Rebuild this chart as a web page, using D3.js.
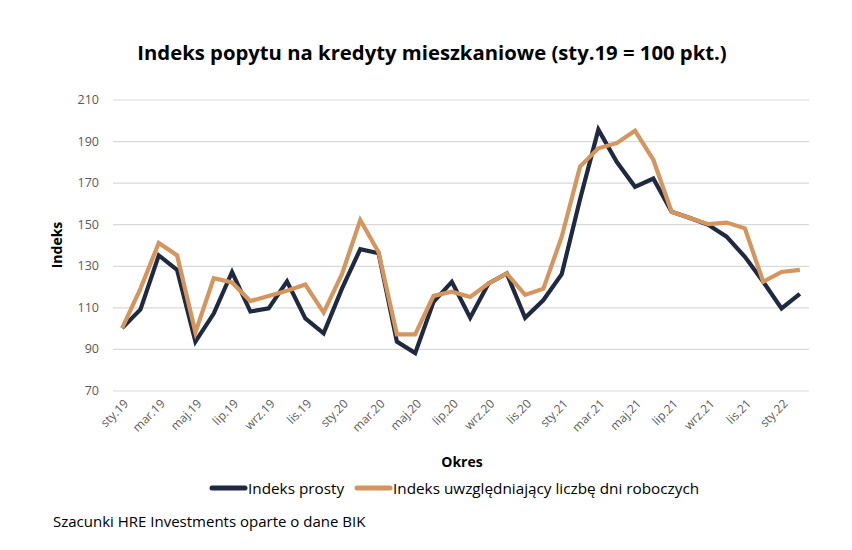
<!DOCTYPE html>
<html>
<head>
<meta charset="utf-8">
<script src="https://cdn.jsdelivr.net/npm/d3@7"></script>
<style>
  body { margin: 0; background: #fff; }
  svg { font-family: "Open Sans", "Noto Sans", sans-serif; }
</style>
</head>
<body>
<svg id="chart"></svg>
<script>
var width = 852;
var height = 550;

// months on x axis (sty.19 .. lut.22)
var months = [
  "sty.19","lut.19","mar.19","kwi.19","maj.19","cze.19","lip.19","sie.19","wrz.19","paź.19","lis.19","gru.19",
  "sty.20","lut.20","mar.20","kwi.20","maj.20","cze.20","lip.20","sie.20","wrz.20","paź.20","lis.20","gru.20",
  "sty.21","lut.21","mar.21","kwi.21","maj.21","cze.21","lip.21","sie.21","wrz.21","paź.21","lis.21","gru.21",
  "sty.22","lut.22"
];
// Indeks prosty
var prosty = [
  100,109,135,128,93.5,107,127,108,109.5,122.5,104.7,97.5,
  119,138,136,93.5,88,112.7,122.3,105,121.5,126.3,105,113.5,
  126,162,195.5,180,168,172,156,153,149.7,144,134.3,122.3,
  109.5,116.5
];
// Indeks uwzgledniajacy liczbe dni roboczych
var robocze = [
  100,119,141,135,98,124,122,113,115.5,118,121,107.5,
  126,152,136.5,97,97,115.5,117.5,115,121.5,126.3,116,119,
  144,177.7,186.5,189,195,181,156,153,150,150.8,148,122.3,
  127,128
];
var yTicks = [70, 90, 110, 130, 150, 170, 190, 210];
var seriesNames = ["Indeks prosty", "Indeks uwzględniający liczbę dni roboczych"];
var colors = ["#1f2940", "#d4955f"];

var margin = { top: 99.5, right: 43, bottom: 159.5, left: 113 };

var svg = d3.select("#chart")
  .attr("width", width)
  .attr("height", height);

var x = d3.scaleBand()
  .domain(months)
  .range([margin.left, width - margin.right]);

var y = d3.scaleLinear()
  .domain([70, 210])
  .range([height - margin.bottom, margin.top]);

// gridlines
svg.append("g")
  .attr("class", "grid")
  .attr("transform", "translate(" + margin.left + ",0)")
  .call(d3.axisLeft(y)
    .tickValues(yTicks)
    .tickSize(-(width - margin.left - margin.right))
    .tickFormat(""))
  .call(g => g.select(".domain").remove())
  .selectAll("line")
  .attr("stroke", "#d9d9d9")
  .attr("stroke-width", 1.2);

// y axis labels
svg.append("g")
  .attr("transform", "translate(" + margin.left + ",0)")
  .call(d3.axisLeft(y).tickValues(yTicks).tickSize(0).tickPadding(14))
  .attr("font-family", null)
  .call(g => g.select(".domain").remove())
  .selectAll("text")
  .attr("fill", "#595959")
  .style("font-size", "12.5px");

// x axis labels, every 2nd month, rotated
var xLabels = months.filter((d, i) => i % 2 === 0);
svg.append("g")
  .attr("class", "xaxis")
  .selectAll("text")
  .data(xLabels)
  .enter()
  .append("text")
  .attr("text-anchor", "end")
  .attr("dy", "0.35em")
  .attr("fill", "#595959")
  .style("font-size", "12px")
  .style("transform-box", "view-box")
  .style("transform-origin", "0 0")
  .style("transform", d => "translate(" + (x(d) + x.bandwidth() / 2 + 4) + "px," + (height - margin.bottom + 11) + "px) rotate(-45deg)")
  .text(d => d);

// lines
var line = d3.line()
  .x((d, i) => x(months[i]) + x.bandwidth() / 2)
  .y(d => y(d));

[prosty, robocze].forEach(function(values, k) {
  svg.append("path")
    .datum(values)
    .attr("fill", "none")
    .attr("stroke", colors[k])
    .attr("stroke-width", 4.2)
    .attr("stroke-linejoin", "miter")
    .attr("d", line);
});

// title
svg.append("text")
  .attr("x", 432)
  .attr("y", 60)
  .attr("text-anchor", "middle")
  .style("font-size", "20.3px")
  .style("font-weight", "bold")
  .attr("fill", "#000")
  .text("Indeks popytu na kredyty mieszkaniowe (sty.19 = 100 pkt.)");

// axis titles
svg.append("text")
  .attr("transform", "translate(62,245) rotate(-90)")
  .attr("text-anchor", "middle")
  .style("font-size", "14px")
  .style("font-weight", "bold")
  .attr("fill", "#000")
  .text("Indeks");

svg.append("text")
  .attr("x", 462)
  .attr("y", 467)
  .attr("text-anchor", "middle")
  .style("font-size", "14px")
  .style("font-weight", "bold")
  .attr("fill", "#000")
  .text("Okres");

// legend
var legendX = [210, 355];
seriesNames.forEach(function(name, k) {
  var g = svg.append("g").attr("transform", "translate(" + legendX[k] + ",488)");
  g.append("line")
    .attr("x1", 2).attr("x2", 35)
    .attr("y1", 0).attr("y2", 0)
    .attr("stroke", colors[k])
    .attr("stroke-width", 5)
    .attr("stroke-linecap", "round");
  g.append("text")
    .attr("x", 38)
    .attr("y", 5.5)
    .style("font-size", "15.3px")
    .attr("fill", "#000")
    .text(name);
});

// source
svg.append("text")
  .attr("x", 53)
  .attr("y", 527)
  .style("font-size", "15px")
  .attr("fill", "#000")
  .text("Szacunki HRE Investments oparte o dane BIK");
</script>
</body>
</html>
